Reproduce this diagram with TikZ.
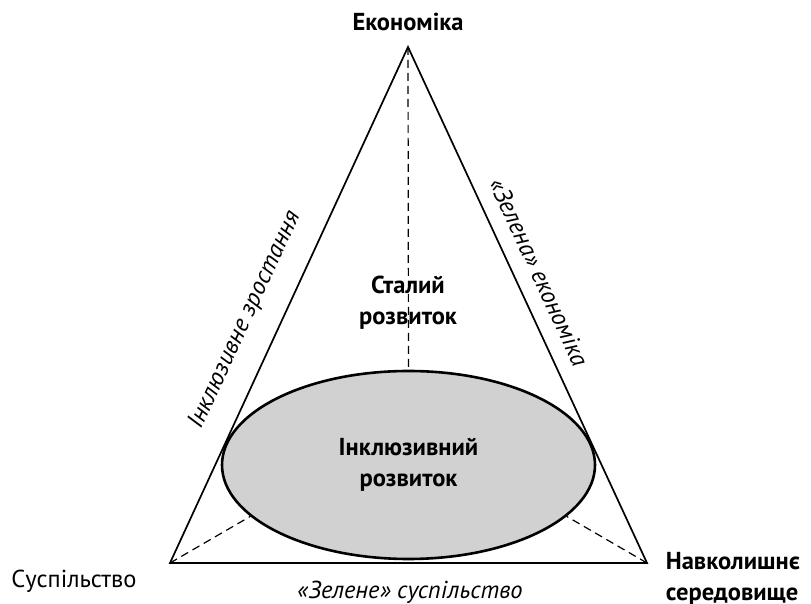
\documentclass[tikz,border=0pt]{standalone}
\usepackage{fontspec}
\setmainfont{PT Sans}
\usetikzlibrary{shapes.geometric}
\tikzset{
	basic/.style  = {font=\fontsize{24.5}{31}\selectfont, inner sep=0pt, align=center},
	title/.style  = {basic, font=\fontsize{24.5}{31}\selectfont\bfseries},
	side/.style   = {basic, font=\fontsize{24.5}{31}\selectfont\itshape},
	core/.style   = {title, draw, ellipse, line width=2.6pt, fill=black!18,
		minimum width=373pt, minimum height=188pt},
	guide/.style  = {line width=1.2pt, dash pattern=on 8pt off 5pt}
}
\begin{document}
\begin{tikzpicture}[x=1pt, y=1pt, line width=1.7pt]
	\useasboundingbox (0,0) rectangle (811,604);
	% corners of the triangle
	\coordinate (apex)  at (408,557);
	\coordinate (left)  at (170,41);
	\coordinate (right) at (647,41);
	\draw[line join=miter] (apex) -- (left) -- (right) -- cycle;
	% inner circle and the guide lines
	\node[core] (incl) at (408.5,139) {Інклюзивний\\розвиток};
	\draw[guide] (apex) -- (incl.north);
	\draw[guide] (left) -- (incl.198);
	\draw[guide] (right) -- (incl.-18);
	% labels
	\node[title] (econ) at (408,582) {Економіка};
	\node[title] (stal) at (408,301) {Сталий\\розвиток};
	\node[basic] (soc) at (74,23) {Суспільство};
	\node[title, anchor=west, align=left] (env) at (665,25) {Навколишнє\\середовище};
	\node[side] (greensoc) at (410,12) {«Зелене» суспільство};
	\node[side, rotate=65.2] (growth) at (245,284) {Інклюзивне зростання};
	\node[side, rotate=-65.2] (greenecon) at (539,332) {«Зелена» економіка};
\end{tikzpicture}
\end{document}
